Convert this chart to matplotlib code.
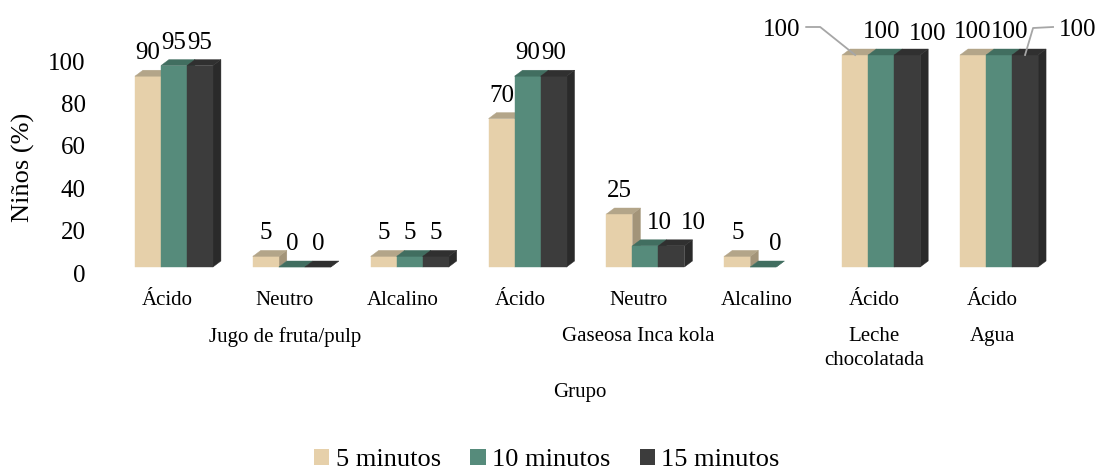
import numpy as np
import matplotlib
matplotlib.use("Agg")
import matplotlib.pyplot as plt
from matplotlib.patches import Rectangle, Polygon, Patch
from matplotlib.transforms import ScaledTranslation

plt.rcParams['font.family'] = ['Liberation Serif', 'DejaVu Serif']

# data
categories = ['Ácido', 'Neutro', 'Alcalino', 'Ácido', 'Neutro', 'Alcalino', 'Ácido', 'Ácido']
groups = ['Jugo de fruta/pulp', 'Gaseosa Inca kola', 'Leche\nchocolatada', 'Agua']
group_pos = [1, 4, 6, 7]
series = ['5 minutos', '10 minutos', '15 minutos']
min5 = [90, 5, 5, 70, 25, 5, 100, 100]
min10 = [95, 0, 5, 90, 10, 0, 100, 100]
min15 = [95, 0, 5, 90, 10, np.nan, 100, 100]
values = [min5, min10, min15]

# front / top / side colours for the fake 3d bars
front = ['#e6d0aa', '#568b7b', '#3c3c3c']
top = ['#b3a589', '#416e60', '#303030']
side = ['#a39479', '#3a6457', '#2a2a2a']

W, H, DPI = 1101, 473, 100
fig = plt.figure(figsize=(W / DPI, H / DPI), dpi=DPI)
ax_l, ax_r, ax_b, ax_t = 115, 1058, 267, 55
ax = fig.add_axes([ax_l / W, (H - ax_b) / H, (ax_r - ax_l) / W, (ax_b - ax_t) / H])
ax.set_xlim(-0.5, 7.5)
ax.set_ylim(0, 100)

px_x = (ax_r - ax_l) / 8.0
px_y = (ax_b - ax_t) / 100.0
w = 26 / px_x
dx = 8 / px_x
dy = 6 / px_y

# manual label nudges (pixels) and leader lines
nudge = {(4, 1): (14, 0), (4, 2): (22, 0), (5, 1): (12, 0),
         (6, 0): (-74, 2), (6, 2): (20, -2), (7, 1): (11, 0), (7, 2): (53, 2)}
leaders = {(6, 0): [(-49, 28), (-35, 28), (0, 0)],
           (7, 2): [(28, 28), (8, 27), (0, 0)]}

z = 2
for i in range(len(categories)):
    for j in range(3):
        v = values[j][i]
        if np.isnan(v):
            continue
        x0 = i + (j - 1) * w - w / 2
        kw = dict(clip_on=False, lw=0.3)
        ax.add_patch(Polygon([(x0 + w, 0), (x0 + w + dx, dy), (x0 + w + dx, v + dy), (x0 + w, v)],
                             fc=side[j], ec=side[j], zorder=z, **kw))
        ax.add_patch(Rectangle((x0, 0), w, v, fc=front[j], ec=front[j], zorder=z + 1, **kw))
        ax.add_patch(Polygon([(x0, v), (x0 + w, v), (x0 + w + dx, v + dy), (x0 + dx, v + dy)],
                             fc=top[j], ec=top[j], zorder=z + 2, **kw))
        z += 3

        xc = x0 + w / 2
        ox, oy = nudge.get((i, j), (0, 0))
        ax.annotate(f'{int(v)}', xy=(xc, v), xytext=(ox, 17 + oy), textcoords='offset pixels',
                    ha='center', va='baseline', fontsize=18, zorder=100, annotation_clip=False)
        if (i, j) in leaders:
            bx, by = ax.transData.transform((xc, v))
            pts = np.array([(bx + px, by + py) for px, py in leaders[(i, j)]])
            pts = fig.transFigure.inverted().transform(pts)
            fig.add_artist(plt.Line2D(pts[:, 0], pts[:, 1], color='#a6a6a6', lw=1.3))

for s in ax.spines.values():
    s.set_visible(False)

ax.set_yticks([0, 20, 40, 60, 80, 100])
ax.tick_params(axis='y', length=0, pad=21, labelsize=18)
for lab in ax.get_yticklabels():
    lab.set_transform(lab.get_transform() + ScaledTranslation(0, -6 / DPI, fig.dpi_scale_trans))

ax.set_xticks(range(len(categories)))
ax.set_xticklabels(categories, fontsize=15)
ax.tick_params(axis='x', length=0, pad=17)
for lab in ax.get_xticklabels():
    lab.set_transform(lab.get_transform() + ScaledTranslation(-7 / DPI, 0, fig.dpi_scale_trans))

for g, p in zip(groups, group_pos):
    ax.annotate(g, xy=(p, 0), xycoords=('data', 'axes fraction'), xytext=(-7, -60),
                textcoords='offset pixels', ha='center', va='top', fontsize=15,
                linespacing=1.35, annotation_clip=False)

ax.annotate('Grupo', xy=(3.5, 0), xycoords=('data', 'axes fraction'), xytext=(-7, -125),
            textcoords='offset pixels', ha='center', va='center', fontsize=15,
            annotation_clip=False)

fig.text(23 / W, 1 - 167 / H, 'Niños (%)', rotation=90, ha='center', va='center', fontsize=19)

handles = [Patch(fc=front[k], ec='none') for k in range(3)]
fig.legend(handles, series, loc='center', bbox_to_anchor=(547 / W, 1 - 460 / H), ncol=3,
           frameon=False, fontsize=19, handlelength=0.58, handleheight=0.58,
           handletextpad=0.25, columnspacing=1.1, borderpad=0)

fig.savefig('out.png', dpi=DPI, facecolor='white')
